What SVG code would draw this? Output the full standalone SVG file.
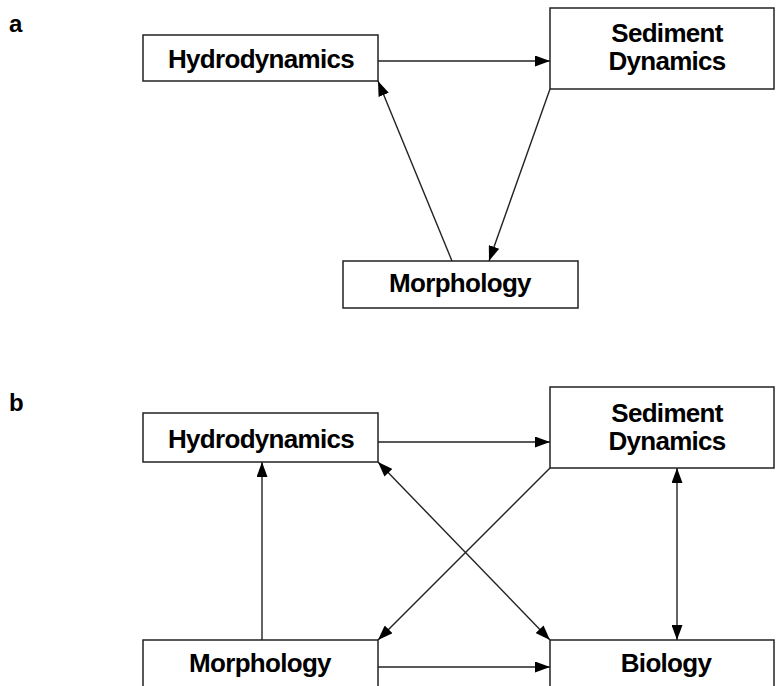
<svg xmlns="http://www.w3.org/2000/svg" width="776" height="686" viewBox="0 0 776 686">
<defs>
<marker id="ah" viewBox="0 0 15 11" refX="15" refY="5.5" markerWidth="15" markerHeight="11" markerUnits="userSpaceOnUse" orient="auto-start-reverse">
<path d="M0,0 L15,5.5 L0,11 Z" fill="#000"/>
</marker>
</defs>
<style>
.box{fill:#fff;stroke:#222;stroke-width:1.5}
.t{font-family:"Liberation Sans",Arial,sans-serif;font-weight:bold;font-size:26px;letter-spacing:-0.7px;fill:#000;text-anchor:middle}
.lbl{font-family:"Liberation Sans",Arial,sans-serif;font-weight:bold;font-size:24px;fill:#000}
.c{stroke:#222;stroke-width:1.4;fill:none}
</style>
<rect width="776" height="686" fill="#fff"/>
<text class="lbl" x="9" y="32">a</text>
<text class="lbl" x="9" y="411">b</text>
<g id="connectors">
<line class="c" x1="378" y1="61" x2="550" y2="61" marker-end="url(#ah)"/>
<line class="c" x1="452" y1="261" x2="378" y2="81" marker-end="url(#ah)"/>
<line class="c" x1="550" y1="89" x2="489" y2="261" marker-end="url(#ah)"/>
<line class="c" x1="378" y1="442" x2="550" y2="442" marker-end="url(#ah)"/>
<line class="c" x1="262" y1="640" x2="262" y2="462" marker-end="url(#ah)"/>
<line class="c" x1="378" y1="462" x2="550" y2="640" marker-start="url(#ah)" marker-end="url(#ah)"/>
<line class="c" x1="550" y1="468" x2="378" y2="640" marker-end="url(#ah)"/>
<line class="c" x1="677" y1="468" x2="677" y2="640" marker-start="url(#ah)" marker-end="url(#ah)"/>
<line class="c" x1="378" y1="667" x2="550" y2="667" marker-end="url(#ah)"/>
</g>
<g id="a-hydrodynamics">
<rect class="box" x="143" y="35" width="235" height="46"/>
<text class="t" x="261" y="68">Hydrodynamics</text>
</g>
<g id="a-sediment">
<rect class="box" x="550" y="8" width="224" height="81"/>
<text class="t" x="667" y="42">Sediment</text>
<text class="t" x="667" y="70">Dynamics</text>
</g>
<g id="a-morphology">
<rect class="box" x="343" y="261" width="235" height="47"/>
<text class="t" x="460" y="292">Morphology</text>
</g>
<g id="b-hydrodynamics">
<rect class="box" x="143" y="413" width="235" height="49"/>
<text class="t" x="261" y="448">Hydrodynamics</text>
</g>
<g id="b-sediment">
<rect class="box" x="550" y="387" width="224" height="81"/>
<text class="t" x="667" y="422">Sediment</text>
<text class="t" x="667" y="450">Dynamics</text>
</g>
<g id="b-morphology">
<rect class="box" x="143" y="640" width="235" height="60"/>
<text class="t" x="260" y="672">Morphology</text>
</g>
<g id="b-biology">
<rect class="box" x="550" y="640" width="224" height="60"/>
<text class="t" x="666" y="672">Biology</text>
</g>
</svg>
